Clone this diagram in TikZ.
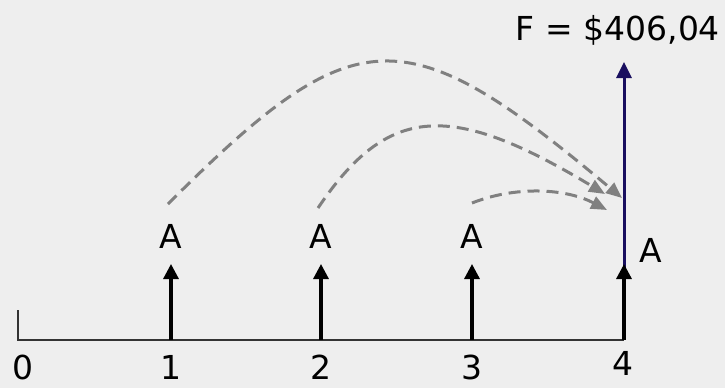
\documentclass[tikz,border=0pt]{standalone}
\usepackage{fontspec}
\setmainfont{DejaVu Sans}
\usetikzlibrary{arrows.meta}
\definecolor{bg}{RGB}{238,238,238}
\definecolor{navy}{RGB}{25,15,95}
\definecolor{dashgray}{RGB}{128,128,128}

\begin{document}
\begin{tikzpicture}[x=1pt,y=-1pt,font=\fontsize{33}{40}\selectfont,
  lbl/.style={anchor=base,inner sep=0pt,text depth=0pt},
  up/.style={-{Triangle[length=15pt,width=15pt]},line width=3.2pt},
  fw/.style={-{Triangle[length=16pt,width=13pt]},dashgray,line width=3pt,dash pattern=on 12pt off 7pt}]
  \fill[bg](0,0)rectangle(725,388);
  \useasboundingbox(0,0)rectangle(725,388);
  % time axis
  \coordinate(t0)at(18,310);\coordinate(o)at(18,340);
  \coordinate(p1)at(171,340);\coordinate(p2)at(321,340);
  \coordinate(p3)at(472,340);\coordinate(p4)at(624,340);
  \coordinate(h1)at(171,264);\coordinate(h2)at(321,264);
  \coordinate(h3)at(472,264);\coordinate(h4)at(624,264);
  \coordinate(top)at(624,62);
  \draw[line width=1.7pt,black!80](t0)--(o)--(p4);
  \draw[navy,line width=3pt,-{Triangle[length=16pt,width=15pt]}](p4)--(top);
  \draw[up](p1)--(h1);\draw[up](p2)--(h2);\draw[up](p3)--(h3);\draw[up](p4)--(h4);
  % labels
  \node[lbl](n0)at(23,379){0};
  \node[lbl](n1)at(171,379){1};
  \node[lbl](n2)at(321,379){2};
  \node[lbl](n3)at(472,379){3};
  \node[lbl](n4)at(623,375){4};
  \node[lbl](a1)at(171,248){A};
  \node[lbl](a2)at(321,248){A};
  \node[lbl](a3)at(472,248){A};
  \node[lbl](a4)at(651,262){A};
  \node[lbl](f)at(618,40){F = \$406,04};
  % compounding
  \coordinate(s1)at(168,204);\coordinate(e1)at(622,198);
  \coordinate(s2)at(318,208);\coordinate(e2)at(605,194);
  \coordinate(s3)at(472,203);\coordinate(e3)at(607,210);
  \draw[fw](s1).. controls (356,16) and (405,16) ..(e1);
  \draw[fw](s2).. controls (388,104) and (451,101) ..(e2);
  \draw[fw](s3).. controls (515,186) and (565,188) ..(e3);
\end{tikzpicture}
\end{document}
